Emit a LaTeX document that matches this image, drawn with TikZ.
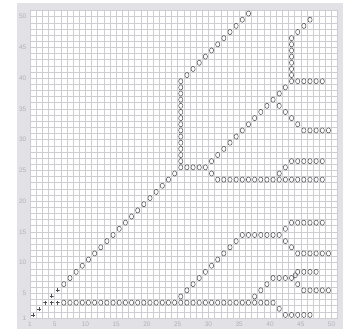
\documentclass[tikz,border=0pt]{standalone}
\usepackage{fontspec}
\setmainfont{Liberation Sans}
\usetikzlibrary{shapes.geometric}
\definecolor{panel}{RGB}{226,226,230}
\definecolor{gridc}{RGB}{206,206,210}
\definecolor{lab}{RGB}{176,176,184}
\definecolor{mk}{RGB}{78,78,78}
\newcommand\omk[2]{\node[omark] (o-#1-#2) at ({#1-0.5},{#2-0.5}) {};}
\newcommand\pmk[2]{\node[pmark] (p-#1-#2) at ({#1-0.5},{#2-0.5}) {};}
\begin{document}
\begin{tikzpicture}[x=1pt,y=1pt,
  omark/.style={ellipse, draw=mk, line width=0.5pt, minimum width=4.2pt, minimum height=5.2pt, inner sep=0pt},
  pmark/.style={rectangle, minimum size=4pt, inner sep=0pt,
    path picture={\draw[mk, line width=0.5pt]
      (path picture bounding box.north) -- (path picture bounding box.south)
      (path picture bounding box.west) -- (path picture bounding box.east);}},
  axlab/.style={text=lab, font=\fontsize{6.5}{7}\selectfont, inner sep=0pt},
  gline/.style={gridc, line width=0.5pt}]
\useasboundingbox (0,0) rectangle (345,329);
\fill[panel] (17,0) rectangle (343,325.5);
\fill[white] (30,11) rectangle (337.7,318.5);
% axis labels
\foreach \k in {1,5,10,15,20,25,30,35,40,45,50} {
  \node[axlab] (xl\k) at ({30+(\k-1)*6.154},4.5) {\k};
  \node[axlab, anchor=east] (yl\k) at (26.5,{11+(\k-1)*6.15}) {\k};
}
\begin{scope}[shift={(30,11)}, x=6.154pt, y=6.15pt]
  \foreach \g in {0,...,50} {
    \draw[gline] (\g,0) -- (\g,50);
    \draw[gline] (0,\g) -- (50,\g);
  }
  % plus markers
  \foreach \i/\j in {1/1,2/2,3/3,4/3,5/3,4/4,5/5} {\pmk{\i}{\j}}
  % main diagonal
  \foreach \k in {6,...,24} {\omk{\k}{\k}}
  % vertical columns
  \foreach \j in {26,...,39} {\omk{25}{\j}}
  \foreach \j in {40,...,46} {\omk{43}{\j}}
  % diagonal pieces
  \foreach \i/\j in {26/40,27/41,28/42,29/43,30/44,31/45,32/46,33/47,34/48,35/49,36/50,
    30/26,31/27,32/28,33/29,34/30,35/31,36/32,37/33,38/34,39/35,40/36,
    41/37,42/38,44/47,45/48,46/49,
    41/35,42/34,43/33,44/32,
    30/24,41/24,42/25,
    41/2,
    25/4,26/5,27/6,28/7,29/8,30/9,31/10,32/11,33/12,34/13,42/15,42/13,43/12,
    37/4,38/5,39/6,44/6} {\omk{\i}{\j}}
  \node[omark] (o-x-7) at (43.1,6.95) {};
  % horizontal rows: y/from/to
  \foreach \y/\a/\b in {25/25/29,39/43/48,31/45/49,23/31/48,26/43/48,3/6/40,1/42/46,
    14/35/41,16/43/48,11/44/49,7/40/43,8/44/47,5/45/49} {
    \foreach \x in {\a,...,\b} {\omk{\x}{\y}}
  }
\end{scope}
\end{tikzpicture}
\end{document}
